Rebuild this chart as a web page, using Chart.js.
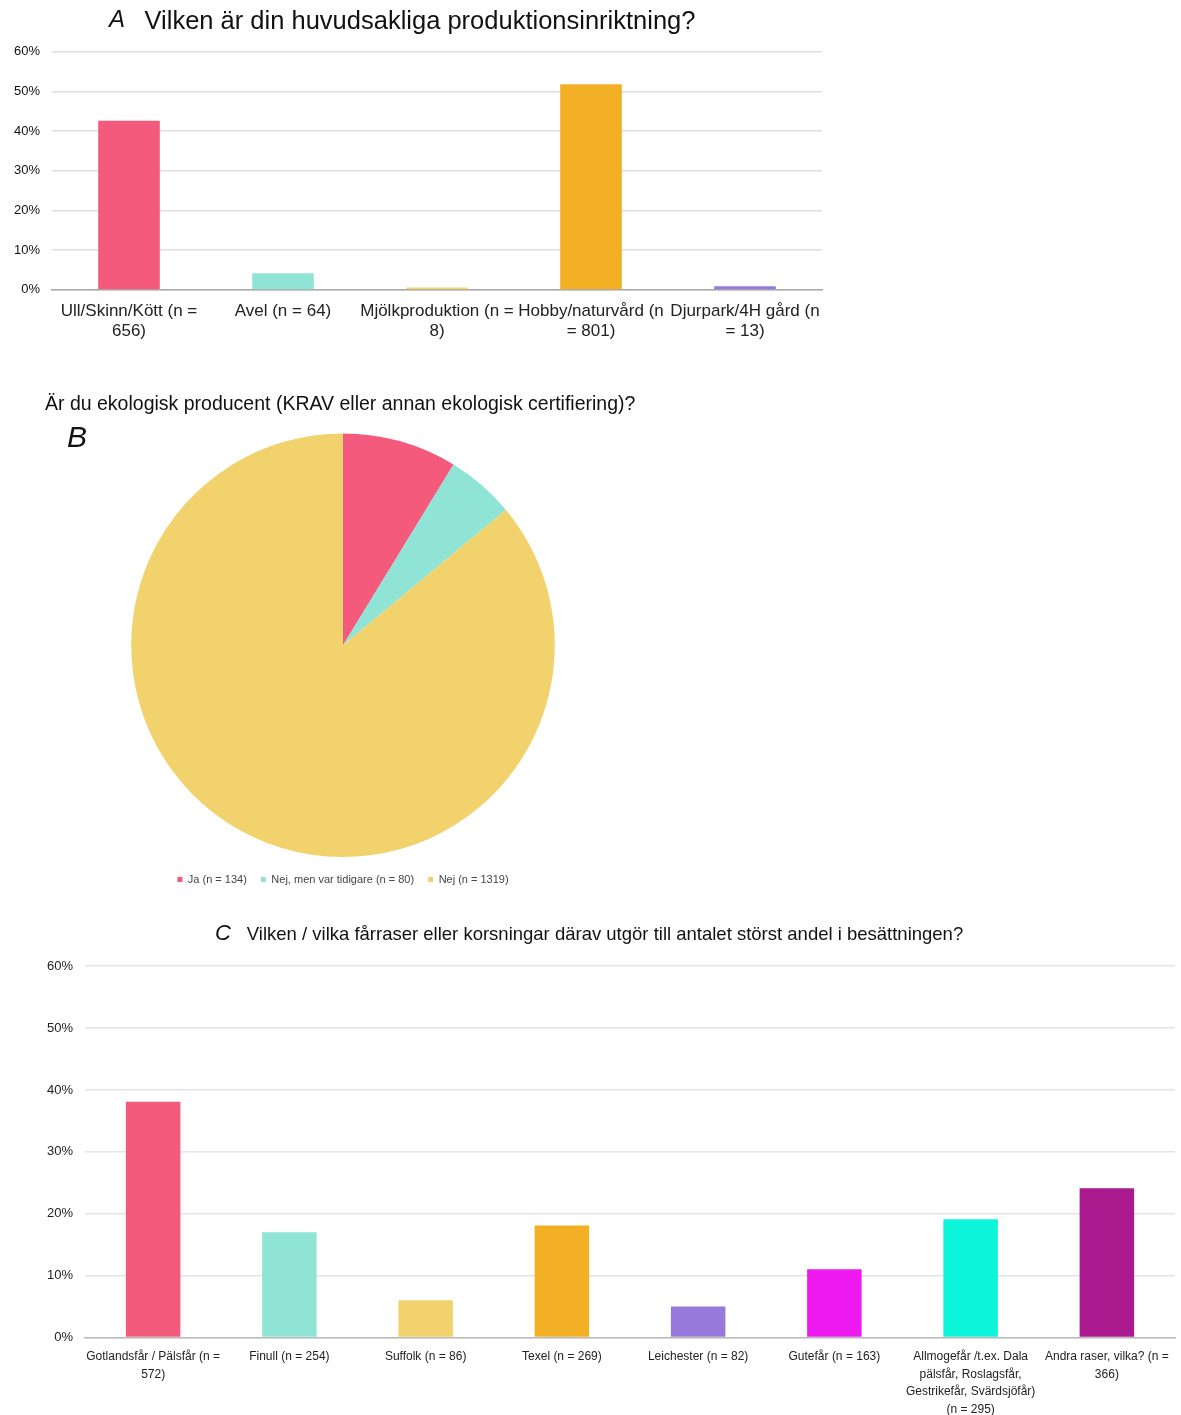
<!DOCTYPE html>
<html>
<head>
<meta charset="utf-8">
<script src="https://cdn.jsdelivr.net/npm/chart.js@4.4.1/dist/chart.umd.min.js"></script>
<style>
  body { margin: 0; background: #fff; width: 1181px; height: 1415px; position: relative; overflow: hidden; }
  .box { position: absolute; }
  .letter { position: absolute; font-family: "Liberation Sans", Arial, sans-serif; font-style: italic; color: #111; }
</style>
</head>
<body>
<div class="box" style="left:0;top:0;width:830px;height:345px"><canvas id="chartA"></canvas></div>
<div class="box" style="left:45px;top:387px;width:596px;height:508px"><canvas id="chartB"></canvas></div>
<div class="box" style="left:0;top:914px;width:1181px;height:507px"><canvas id="chartC"></canvas></div>
<div class="letter" style="left:109px;top:5px;font-size:24px">A</div>
<div class="letter" style="left:67px;top:420px;font-size:30px">B</div>
<div class="letter" style="left:215px;top:920px;font-size:22px">C</div>
<script>
// panel A
const prodLabels = [
    ["Ull/Skinn/Kött (n =", "656)"],
    "Avel (n = 64)",
    ["Mjölkproduktion (n =", "8)"],
    ["Hobby/naturvård (n", "= 801)"],
    ["Djurpark/4H gård (n", "= 13)"]
];
const prodValues = [42.6, 4.2, 0.6, 51.8, 0.9];
const prodColors = ["#F45A7C", "#90E4D6", "#F2D26C", "#F4B024", "#9679DA"];

// panel B
const ekoLabels = ["Ja (n = 134)", "Nej, men var tidigare (n = 80)", "Nej (n = 1319)"];
const ekoValues = [134, 80, 1319];
const ekoColors = ["#F45A7C", "#90E4D6", "#F1D26C"];

// panel C
const rasLabels = [
    ["Gotlandsfår / Pälsfår (n =", "572)"],
    "Finull (n = 254)",
    "Suffolk (n = 86)",
    "Texel (n = 269)",
    "Leichester (n = 82)",
    "Gutefår (n = 163)",
    ["Allmogefår /t.ex. Dala", "pälsfår, Roslagsfår,", "Gestrikefår, Svärdsjöfår)", "(n = 295)"],
    ["Andra raser, vilka? (n =", "366)"]
];
const rasValues = [38.1, 17, 6, 18.1, 5, 11, 19.1, 24.1];
const rasColors = ["#F45A7C", "#90E4D6", "#F2D26C", "#F4B024", "#9679DA", "#EE1AF0", "#0CF4DA", "#AA1A8E"];

const pct = v => v + "%";
const arial = "'Liberation Sans', Arial, sans-serif";

// narrow y axis in A so the title sits further right; let its labels spill left
const unclipY = {
    id: "unclipY",
    afterLayout: chart => { chart.scales.y.left = 0; }
};

new Chart(document.getElementById("chartA"), {
    type: "bar",
    data: {
        labels: prodLabels,
        datasets: [{ data: prodValues, backgroundColor: prodColors, barPercentage: 0.4, categoryPercentage: 1 }]
    },
    plugins: [unclipY],
    options: {
        responsive: true,
        maintainAspectRatio: false,
        animation: false,
        layout: { padding: { left: 18, right: 8, top: 0, bottom: 0 } },
        plugins: {
            legend: { display: false },
            tooltip: { enabled: false },
            title: {
                display: true,
                text: "Vilken är din huvudsakliga produktionsinriktning?",
                color: "#111",
                font: { family: arial, size: 25.5, weight: "normal" },
                padding: { top: 7, bottom: 14 }
            }
        },
        scales: {
            y: {
                min: 0, max: 60,
                afterFit: axis => { axis.width = 34; },
                ticks: { stepSize: 10, callback: pct, color: "#111", font: { family: arial, size: 13 }, padding: 12 },
                grid: { color: "#dedede", lineWidth: 1.5, drawTicks: false },
                border: { display: false }
            },
            x: {
                ticks: { color: "#222", font: { family: arial, size: 17, lineHeight: 1.15 }, maxRotation: 0, autoSkip: false, padding: 4 },
                grid: { display: false },
                border: { color: "#aaa", width: 1.5 }
            }
        }
    }
});

new Chart(document.getElementById("chartB"), {
    type: "pie",
    data: {
        labels: ekoLabels,
        datasets: [{ data: ekoValues, backgroundColor: ekoColors, borderWidth: 0, radius: "98.6%" }]
    },
    options: {
        responsive: true,
        maintainAspectRatio: false,
        animation: false,
        plugins: {
            tooltip: { enabled: false },
            title: {
                display: true,
                text: "Är du ekologisk producent (KRAV eller annan ekologisk certifiering)?",
                color: "#111",
                align: "start",
                font: { family: arial, size: 19.5, weight: "normal" },
                padding: { top: 6, bottom: 14 }
            },
            legend: {
                position: "bottom",
                labels: { color: "#444", font: { family: arial, size: 11 }, boxWidth: 5, boxHeight: 5, padding: 14 }
            }
        }
    }
});

new Chart(document.getElementById("chartC"), {
    type: "bar",
    data: {
        labels: rasLabels,
        datasets: [{ data: rasValues, backgroundColor: rasColors, barPercentage: 0.4, categoryPercentage: 1 }]
    },
    options: {
        responsive: true,
        maintainAspectRatio: false,
        animation: false,
        layout: { padding: { left: 35, right: 6, top: 0, bottom: 0 } },
        plugins: {
            legend: { display: false },
            tooltip: { enabled: false },
            title: {
                display: true,
                text: "Vilken / vilka fårraser eller korsningar därav utgör till antalet störst andel i besättningen?",
                color: "#111",
                font: { family: arial, size: 18.5, weight: "normal" },
                padding: { top: 10, bottom: 20 }
            }
        },
        scales: {
            y: {
                min: 0, max: 60,
                ticks: { stepSize: 10, callback: pct, color: "#222", font: { family: arial, size: 13 }, padding: 12 },
                grid: { color: "#e4e4e4", lineWidth: 1.5, drawTicks: false },
                border: { display: false }
            },
            x: {
                ticks: { color: "#222", font: { family: arial, size: 12, lineHeight: 1.45 }, maxRotation: 0, autoSkip: false, padding: 3 },
                grid: { display: false },
                border: { color: "#bbb", width: 1.5 }
            }
        }
    }
});
</script>
</body>
</html>
